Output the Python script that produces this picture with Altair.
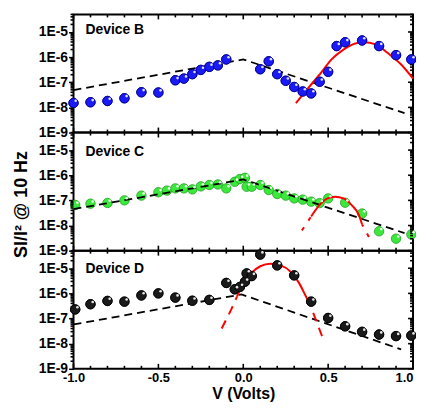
import altair as alt
import pandas as pd

# ---------------- data ----------------
# Device B
b_v = [-1.0, -0.9, -0.8, -0.7, -0.6, -0.5, -0.4, -0.35, -0.3, -0.25, -0.2, -0.15, -0.1,
       0.1, 0.15, 0.2, 0.25, 0.3, 0.35, 0.4, 0.45, 0.5, 0.55, 0.6, 0.7, 0.8, 0.9, 0.99]
b_s = [1.5e-8, 1.6e-8, 1.8e-8, 2.3e-8, 4.0e-8, 3.9e-8, 1.2e-7, 1.4e-7, 2.1e-7, 3.1e-7, 4.1e-7, 4.7e-7, 8.1e-7,
       3.3e-7, 6.8e-7, 2.1e-7, 1.15e-7, 6.5e-8, 4.3e-8, 3.6e-8, 1.05e-7, 2.6e-7, 2.75e-6, 3.9e-6, 4.6e-6, 2.75e-6, 1.2e-6, 8.1e-7]
b_line_v = [-1.0, 0.0, 0.95]
b_line_s = [4.9e-8, 8.1e-7, 5.9e-9]
b_fit_v = [0.31, 0.386, 0.46, 0.52, 0.59, 0.66, 0.71, 0.78, 0.85, 0.93, 1.0]
b_fit_s = [1.48e-8, 6.3e-8, 2.45e-7, 8.1e-7, 2.0e-6, 3.5e-6, 3.9e-6, 3.2e-6, 1.48e-6, 5.1e-7, 1.41e-7]

# Device C
c_v = [-0.99, -0.9, -0.8, -0.7, -0.6, -0.5, -0.45, -0.4, -0.35, -0.3, -0.25, -0.2, -0.15, -0.1, -0.05, -0.02,
       0.01, 0.02, 0.05, 0.1, 0.15, 0.2, 0.25, 0.3, 0.35, 0.4, 0.45, 0.5, 0.6, 0.7, 0.8, 0.9, 0.99]
c_s = [6.6e-8, 7.4e-8, 7.9e-8, 1.0e-7, 1.55e-7, 2.1e-7, 2.45e-7, 3.0e-7, 3.0e-7, 2.75e-7, 3.6e-7, 4.1e-7, 4.3e-7, 3.0e-7, 5.5e-7, 7.1e-7,
       7.9e-7, 3.5e-7, 3.5e-7, 4.1e-7, 2.6e-7, 1.8e-7, 1.55e-7, 1.2e-7, 1.07e-7, 8.9e-8, 7.8e-8, 1.2e-7, 8.1e-8, 3.0e-8, 5.9e-9, 3.0e-9, 4.4e-9]
c_line_v = [-1.0, 0.0, 0.95]
c_line_s = [4.5e-8, 6.8e-7, 5.0e-9]
c_fit_v = [0.40, 0.45, 0.49, 0.54, 0.59, 0.64, 0.68, 0.70]
c_fit_s = [2.3e-8, 6.6e-8, 1.15e-7, 1.41e-7, 1.2e-7, 6.3e-8, 2.7e-8, 1.1e-8]
c_ext_v = [0.345, 0.40, 0.74, 0.70]
c_ext_s = [6.3e-9, 2.3e-8, 3.5e-9, 1.1e-8]
c_ext_seg = ["left", "left", "right", "right"]

# Device D
d_v = [-0.99, -0.9, -0.8, -0.7, -0.6, -0.5, -0.4, -0.3, -0.2, -0.1, -0.05, -0.02,
       0.01, 0.02, 0.05, 0.1, 0.2, 0.3, 0.4, 0.5, 0.6, 0.7, 0.8, 0.9, 0.99]
d_s = [2.3e-7, 3.7e-7, 5.0e-7, 4.7e-7, 8.3e-7, 1.0e-6, 6.8e-7, 5.1e-7, 5.5e-7, 2.6e-6, 1.45e-6, 1.8e-6,
       2.9e-6, 6.2e-6, 4.9e-6, 3.5e-5, 1.3e-5, 5.2e-6, 4.7e-7, 1.05e-7, 4.9e-8, 2.95e-8, 2.3e-8, 2.0e-8, 2.1e-8]
d_line_v = [-1.0, -0.01, 0.93]
d_line_s = [5.8e-8, 9.1e-7, 5.9e-9]
d_fit_v = [-0.037, 0.006, 0.045, 0.10, 0.16, 0.22, 0.28, 0.33, 0.37, 0.39]
d_fit_s = [7.4e-7, 2.9e-6, 6.2e-6, 1.2e-5, 1.5e-5, 1.3e-5, 7.1e-6, 2.5e-6, 7.4e-7, 4.1e-7]
d_ext_v = [-0.127, -0.072, -0.037, 0.464, 0.39]
d_ext_s = [4.0e-8, 2.2e-7, 7.4e-7, 2.0e-8, 4.1e-7]
d_ext_seg = ["left", "left", "left", "right", "right"]

x_major = [-1.0, -0.5, 0.0, 0.5, 1.0]
x_minor = [round(-1 + 0.1 * i, 1) for i in range(21) if i % 5]
y_major = [1e-9, 1e-8, 1e-7, 1e-6, 1e-5]
y_minor = [k * 10.0 ** e for e in range(-9, -4) for k in range(2, 10) if k * 10.0 ** e <= 5e-5]

# ---------------- chart ----------------
W, H = 342, 119
FONT = "Liberation Sans"
xscale = alt.Scale(domain=[-1, 1], nice=False, zero=False)
yscale = alt.Scale(type="log", domain=[1e-9, 5e-5], nice=False)


def df_of(v, s, seg=None):
    d = pd.DataFrame({"v": v, "s": s})
    d["i"] = range(len(d))
    if seg is not None:
        d["seg"] = seg
    return d


def yticks(vals, x0, x1):
    return alt.Chart(pd.DataFrame({"s": vals})).mark_rule(color="black", strokeWidth=1.6).encode(
        y=alt.Y("s:Q", scale=yscale, axis=None), x=alt.value(x0), x2=alt.value(x1))


def xticks(vals, y0, y1):
    return alt.Chart(pd.DataFrame({"v": vals})).mark_rule(color="black", strokeWidth=1.6).encode(
        x=alt.X("v:Q", scale=xscale, axis=None), y=alt.value(y0), y2=alt.value(y1))


def panel(pv, ps, lv, ls, fv, fs, ext, dash, fill, stroke, hl, label, label_y, show_x, ytitle, lines_on_top):
    pts_df = df_of(pv, ps)

    if show_x:
        xaxis = alt.Axis(orient="bottom", values=x_major, ticks=False, domain=False, grid=False, labelPadding=3,
                         labelFlush=False, labelFontSize=13,
                         labelAlign={"condition": {"test": "datum.value >= 1", "value": "right"}, "value": "center"},
                         labelExpr="(datum.value < 0 ? '-' : '') + format(abs(datum.value), '.1f')",
                         title="V (Volts)", titleFontSize=16, titlePadding=1)
    else:
        xaxis = None
    yargs = dict(orient="left", values=y_major, labelExpr="'1E' + round(log(datum.value) / LN10)",
                 tickSize=5, domain=False, grid=False, labelPadding=1)
    if ytitle:
        yaxis = alt.Axis(title=ytitle, titleX=-52, titleY=72, titleAngle=270, titleAlign="center",
                         titleBaseline="middle", titleFontSize=18, **yargs)
    else:
        yaxis = alt.Axis(title=None, **yargs)

    pts = alt.Chart(pts_df).mark_circle(size=90, opacity=1, color=fill, stroke=stroke, strokeWidth=0.8).encode(
        x=alt.X("v:Q", scale=xscale, axis=xaxis),
        y=alt.Y("s:Q", scale=yscale, axis=yaxis))
    hil = alt.Chart(pts_df).mark_circle(size=7, opacity=0.95, color=hl, xOffset=2.2, yOffset=-2.2).encode(
        x=alt.X("v:Q", scale=xscale, axis=None),
        y=alt.Y("s:Q", scale=yscale, axis=None))
    dashed = alt.Chart(df_of(lv, ls)).mark_line(color="black", strokeWidth=1.8, strokeDash=[8, 5]).encode(
        x=alt.X("v:Q", scale=xscale, axis=None),
        y=alt.Y("s:Q", scale=yscale, axis=None))
    fit = alt.Chart(df_of(fv, fs)).mark_line(color="#ff0000", strokeWidth=2, interpolate="monotone").encode(
        x=alt.X("v:Q", scale=xscale, axis=None),
        y=alt.Y("s:Q", scale=yscale, axis=None))
    ticks = [
        yticks(y_minor, 0, -3),
        yticks(y_major, W, W - 5),
        yticks(y_minor, W, W - 3),
        xticks(x_major, 0, 5),
        xticks(x_minor, 0, 3),
        xticks(x_major, H, H - 5),
        xticks(x_minor, H, H - 3),
    ]
    layers = [pts] + ticks
    line_layers = [dashed, fit]
    if ext is not None:
        ev, es, eseg = ext
        extl = alt.Chart(df_of(ev, es, eseg)).mark_line(color="#ff0000", strokeWidth=2, strokeDash=dash).encode(
            x=alt.X("v:Q", scale=xscale, axis=None),
            y=alt.Y("s:Q", scale=yscale, axis=None),
            detail="seg:N", order="i:Q")
        line_layers.append(extl)
    pts_again = alt.Chart(pts_df).mark_circle(size=90, opacity=1, color=fill, stroke=stroke, strokeWidth=0.8).encode(
        x=alt.X("v:Q", scale=xscale, axis=None),
        y=alt.Y("s:Q", scale=yscale, axis=None))
    if lines_on_top:
        layers += line_layers + [hil]
    else:
        layers += line_layers + [pts_again, hil]
    txt = alt.Chart(pd.DataFrame({"t": [label]})).mark_text(
        align="left", baseline="middle", fontSize=14, fontWeight="bold", font=FONT, color="black").encode(
        x=alt.value(12), y=alt.value(label_y), text="t:N")
    layers.append(txt)
    return alt.layer(*layers).properties(width=W, height=H).resolve_axis(x="independent", y="independent")


pB = panel(b_v, b_s, b_line_v, b_line_s, b_fit_v, b_fit_s, None, None,
           "#1a1af5", "#00008b", "#e8e8ff", "Device B", 16, False, None, False)
pC = panel(c_v, c_s, c_line_v, c_line_s, c_fit_v, c_fit_s, (c_ext_v, c_ext_s, c_ext_seg), [4, 8],
           "#3de83d", "#1f9f1f", "#f4fff4", "Device C", 20, False, "SI/I² @ 10 Hz", True)
pD = panel(d_v, d_s, d_line_v, d_line_s, d_fit_v, d_fit_s, (d_ext_v, d_ext_s, d_ext_seg), [9, 7],
           "#1a1a1a", "#000000", "#f0f0f0", "Device D", 18, True, None, False)

chart = alt.vconcat(pB, pC, pD, spacing=0, bounds="flush").properties(
    padding={"left": 4, "top": 3, "right": -3, "bottom": 0}
).configure_view(stroke="black", strokeWidth=2).configure_axis(
    grid=False, labelFont=FONT, labelFontWeight="bold", labelFontSize=14, labelColor="black",
    titleFont=FONT, titleFontWeight="bold", titleColor="black", tickColor="black", tickWidth=1.5
)

chart.save("out.html", embed_options={"renderer": "svg", "actions": False})
